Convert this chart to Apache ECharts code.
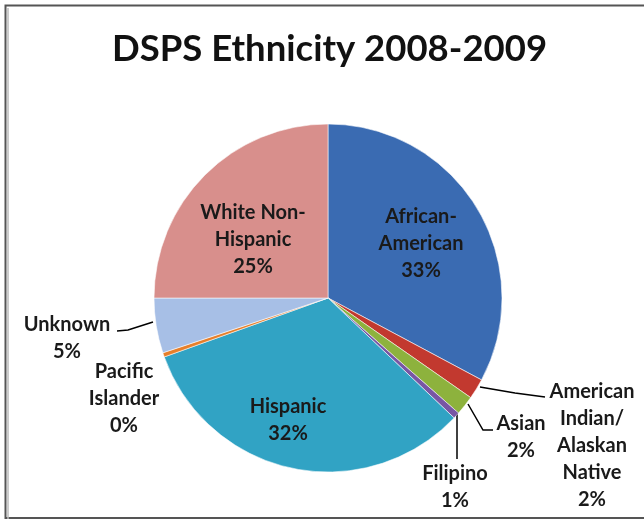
<!DOCTYPE html>
<html>
<head>
<meta charset="utf-8">
<script src="https://cdn.jsdelivr.net/npm/echarts@6/dist/echarts.min.js"></script>
<style>
html,body{margin:0;padding:0;background:#fff;}
#chart{width:644px;height:519px;}
</style>
</head>
<body>
<div id="chart"></div>
<script>
const titleText = 'DSPS Ethnicity 2008-2009';
const categories = ['African-\nAmerican', 'American\nIndian/\nAlaskan\nNative', 'Asian', 'Filipino', 'Hispanic', 'Pacific\nIslander', 'Unknown', 'White Non-\nHispanic'];
const values = [32.8, 1.9, 1.8, 0.6, 32.4, 0.4, 5.1, 25.0];
const percentLabels = ['33%', '2%', '2%', '1%', '32%', '0%', '5%', '25%'];
const colors = ['#3A6BB2', '#C2392F', '#8DB23D', '#7856A4', '#31A3C4', '#E67F2B', '#A7BFE6', '#D88F8C'];

// label anchor positions (layout only)
const labelPos = [
  [421, 244], [592, 446], [521, 437], [455, 487],
  [288, 420], [124, 399], [67, 338], [253, 240]
];
// leader line paths (layout only)
const linePts = {
  1: [[480, 387], [515, 393], [545, 397]],
  2: [[468, 404], [483, 430], [493, 430]],
  3: [[457, 408], [457, 432], [457, 459]],
  6: [[153, 322], [128, 330], [117, 331]]
};

const chart = echarts.init(document.getElementById('chart'), null, {renderer: 'canvas'});

const data = categories.map((name, i) => ({
  name: name,
  value: values[i],
  itemStyle: {color: colors[i]},
  label: {formatter: name + '\n' + percentLabels[i]},
  labelLine: {show: !!linePts[i]}
}));

chart.setOption({
  backgroundColor: '#ffffff',
  title: {
    text: titleText,
    left: 107,
    top: 26,
    textStyle: {fontFamily: 'Lato', fontWeight: 'bold', fontSize: 36.5, color: '#111'}
  },
  graphic: [
    {type: 'rect', shape: {x: 5.5, y: 5.5, width: 700, height: 512.5}, style: {fill: 'none', stroke: '#555', lineWidth: 2}, silent: true},
    {type: 'line', shape: {x1: 8, y1: 8, x2: 8, y2: 519}, style: {stroke: '#bbb', lineWidth: 1.5}, silent: true}
  ],
  series: [{
    type: 'pie',
    center: [328, 298],
    radius: 174,
    startAngle: 90,
    clockwise: true,
    avoidLabelOverlap: false,
    data: data,
    itemStyle: {borderColor: 'rgba(255,255,255,0.55)', borderWidth: 1},
    label: {
      show: true,
      position: 'outside',
      fontFamily: 'Lato',
      fontWeight: 'bold',
      fontSize: 20,
      lineHeight: 27,
      color: '#1a1a1a',
      align: 'center'
    },
    labelLine: {
      length: 20, length2: 20,
      lineStyle: {color: '#000', width: 1.5}
    },
    labelLayout: function (params) {
      const i = params.dataIndex;
      const p = labelPos[i];
      const r = {x: p[0], y: p[1], align: 'center', verticalAlign: 'middle'};
      if (linePts[i]) r.labelLinePoints = linePts[i];
      return r;
    },
    emphasis: {disabled: true}
  }]
});
</script>
</body>
</html>
